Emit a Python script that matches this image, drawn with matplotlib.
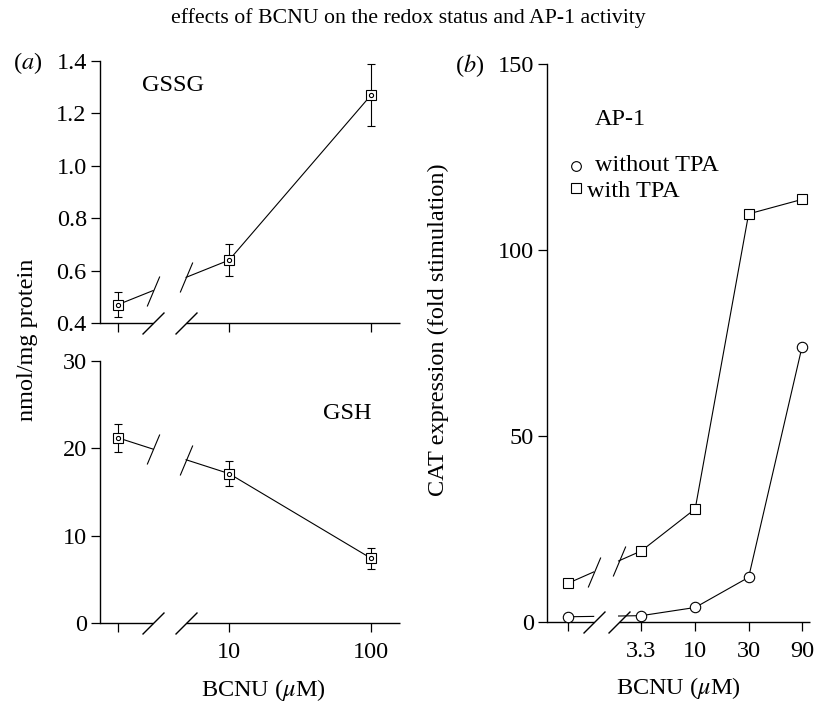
import numpy as np
import matplotlib.pyplot as plt
from matplotlib.ticker import NullLocator, FixedLocator, FormatStrFormatter

plt.rcParams['font.family'] = ['Liberation Serif', 'DejaVu Serif']
plt.rcParams['mathtext.fontset'] = 'stix'

# (a) glutathione vs BCNU dose (0 = control)
dose_a = [0, 10, 100]
gssg = [0.47, 0.64, 1.27]
gssg_err = [0.047, 0.06, 0.12]
gsh = [21.2, 17.1, 7.4]
gsh_err = [1.6, 1.4, 1.2]

# (b) AP-1 CAT expression vs BCNU dose
dose_b = [0, 3.3, 10, 30, 90]
no_tpa = [1.4, 1.7, 3.9, 12.0, 74.0]
with_tpa = [10.4, 19.1, 30.4, 109.7, 113.6]
ticks_b = [3.3, 10, 30, 90]

# where the control dose sits on the log axis, and where the axis is broken
ctrl_a, brk_a, xlim_a = 1.65, (2.92, 4.98), (1.234, 160)
ctrl_b, brk_b, xlim_b = 0.731, (1.24, 2.07), (0.475, 106)

axis_slash = [(-1, -1), (1, 1)]
line_slash = [(-0.42, -1), (0.42, 1)]
lw = 0.8
fs = 17.5   # text size
tfs = 17.5  # tick label size


def positions(doses, ctrl):
    return [ctrl if d == 0 else d for d in doses]


def broken_line(ax, x, y, brk, slash=True):
    lx = np.log10(x)
    t = [(np.log10(b) - lx[0]) / (lx[1] - lx[0]) for b in brk]
    yb = [y[0] + (y[1] - y[0]) * ti for ti in t]
    ax.plot([x[0], brk[0]], [y[0], yb[0]], 'k-', lw=lw, zorder=2)
    ax.plot([brk[1]] + list(x[1:]), [yb[1]] + list(y[1:]), 'k-', lw=lw, zorder=2)
    if slash:
        ax.plot(brk, yb, ls='none', marker=line_slash, ms=21.6, mec='k', mew=lw, zorder=2)


def setup_axis(ax, xlim, brk, xticks):
    ax.set_xscale('log')
    ax.set_xlim(*xlim)
    ax.xaxis.set_minor_locator(NullLocator())
    ax.xaxis.set_major_locator(FixedLocator(xticks))
    for s in ['top', 'right', 'bottom']:
        ax.spines[s].set_visible(False)
    ax.spines['left'].set_linewidth(1.0)
    tr = ax.get_xaxis_transform()
    ax.plot([xlim[0], brk[0]], [0, 0], 'k-', lw=1.0, transform=tr, clip_on=False, solid_capstyle='butt')
    ax.plot([brk[1], xlim[1]], [0, 0], 'k-', lw=1.0, transform=tr, clip_on=False, solid_capstyle='butt')
    ax.plot(brk, [0, 0], ls='none', marker=axis_slash, ms=15.8, mec='k', mew=1.0,
            transform=tr, clip_on=False)
    ax.tick_params(direction='out', length=6.5, width=0.9, labelsize=tfs, pad=3)
    ax.tick_params(axis='x', pad=7.5)


fig = plt.figure(figsize=(8.14, 7.04), dpi=100)
ax1 = fig.add_axes([0.1229, 0.5412, 0.3686, 0.3722])
ax2 = fig.add_axes([0.1229, 0.1151, 0.3686, 0.3722])
ax3 = fig.add_axes([0.672, 0.1165, 0.3231, 0.7926])

xa = positions(dose_a, ctrl_a)
xb = positions(dose_b, ctrl_b)

# GSSG
setup_axis(ax1, xlim_a, brk_a, xa)
ax1.set_xticklabels([])
ax1.set_ylim(0.4, 1.4)
ax1.yaxis.set_major_locator(FixedLocator([0.4, 0.6, 0.8, 1.0, 1.2, 1.4]))
ax1.yaxis.set_major_formatter(FormatStrFormatter('%.1f'))
broken_line(ax1, xa, gssg, brk_a)
ax1.errorbar(xa, gssg, yerr=gssg_err, fmt='none', ecolor='k', elinewidth=lw, capsize=3, capthick=lw, zorder=3)
ax1.plot(xa, gssg, ls='none', marker='s', ms=7.5, mfc='white', mec='k', mew=lw, zorder=4)
ax1.plot(xa, gssg, ls='none', marker='o', ms=3, mfc='white', mec='k', mew=0.8, zorder=5)
ax1.text(0.14, 0.905, 'GSSG', transform=ax1.transAxes, fontsize=fs, va='center')

# GSH
setup_axis(ax2, xlim_a, brk_a, xa)
ax2.set_xticklabels(['', '10', '100'])
ax2.set_ylim(0, 30)
ax2.yaxis.set_major_locator(FixedLocator([0, 10, 20, 30]))
broken_line(ax2, xa, gsh, brk_a)
ax2.errorbar(xa, gsh, yerr=gsh_err, fmt='none', ecolor='k', elinewidth=lw, capsize=3, capthick=lw, zorder=3)
ax2.plot(xa, gsh, ls='none', marker='s', ms=7.5, mfc='white', mec='k', mew=lw, zorder=4)
ax2.plot(xa, gsh, ls='none', marker='o', ms=3, mfc='white', mec='k', mew=0.8, zorder=5)
ax2.text(0.823, 0.80, 'GSH', transform=ax2.transAxes, fontsize=fs, va='center', ha='center')

fig.text(0.324, 0.02, r'BCNU ($\mu$M)', fontsize=fs, ha='center', va='center')
fig.text(0.034, 0.517, 'nmol/mg protein', rotation=90, fontsize=fs, ha='center', va='center')
fig.text(0.016, 0.911, r'($a$)', fontsize=fs, va='center')

# AP-1
setup_axis(ax3, xlim_b, brk_b, [ctrl_b] + ticks_b)
ax3.set_xticklabels([''] + ['3.3', '10', '30', '90'])
ax3.set_ylim(0, 150)
ax3.yaxis.set_major_locator(FixedLocator([0, 50, 100, 150]))
broken_line(ax3, xb, with_tpa, brk_b)
broken_line(ax3, xb, no_tpa, brk_b, slash=False)
ax3.plot(xb, with_tpa, ls='none', marker='s', ms=6.5, mfc='white', mec='k', mew=lw, zorder=4)
ax3.plot(xb, no_tpa, ls='none', marker='o', ms=7.5, mfc='white', mec='k', mew=lw, zorder=4, clip_on=False)
fig.text(0.538, 0.532, 'CAT expression (fold stimulation)', rotation=90, fontsize=fs, ha='center', va='center')
fig.text(0.833, 0.023, r'BCNU ($\mu$M)', fontsize=fs, ha='center', va='center')
ax3.text(0.183, 0.90, 'AP-1', transform=ax3.transAxes, fontsize=fs, va='center')
ax3.plot([0.109], [0.818], ls='none', marker='o', ms=7, mfc='white', mec='k', mew=lw, transform=ax3.transAxes)
ax3.plot([0.11], [0.778], ls='none', marker='s', ms=6.5, mfc='white', mec='k', mew=lw, transform=ax3.transAxes)
ax3.text(0.183, 0.818, 'without TPA', transform=ax3.transAxes, fontsize=fs, va='center')
ax3.text(0.152, 0.771, 'with TPA', transform=ax3.transAxes, fontsize=fs, va='center')
fig.text(0.559, 0.907, r'($b$)', fontsize=fs, va='center')

fig.text(0.502, 0.975, 'effects of BCNU on the redox status and AP-1 activity', fontsize=15.7,
         ha='center', va='center')

fig.savefig('out.png', dpi=100)
